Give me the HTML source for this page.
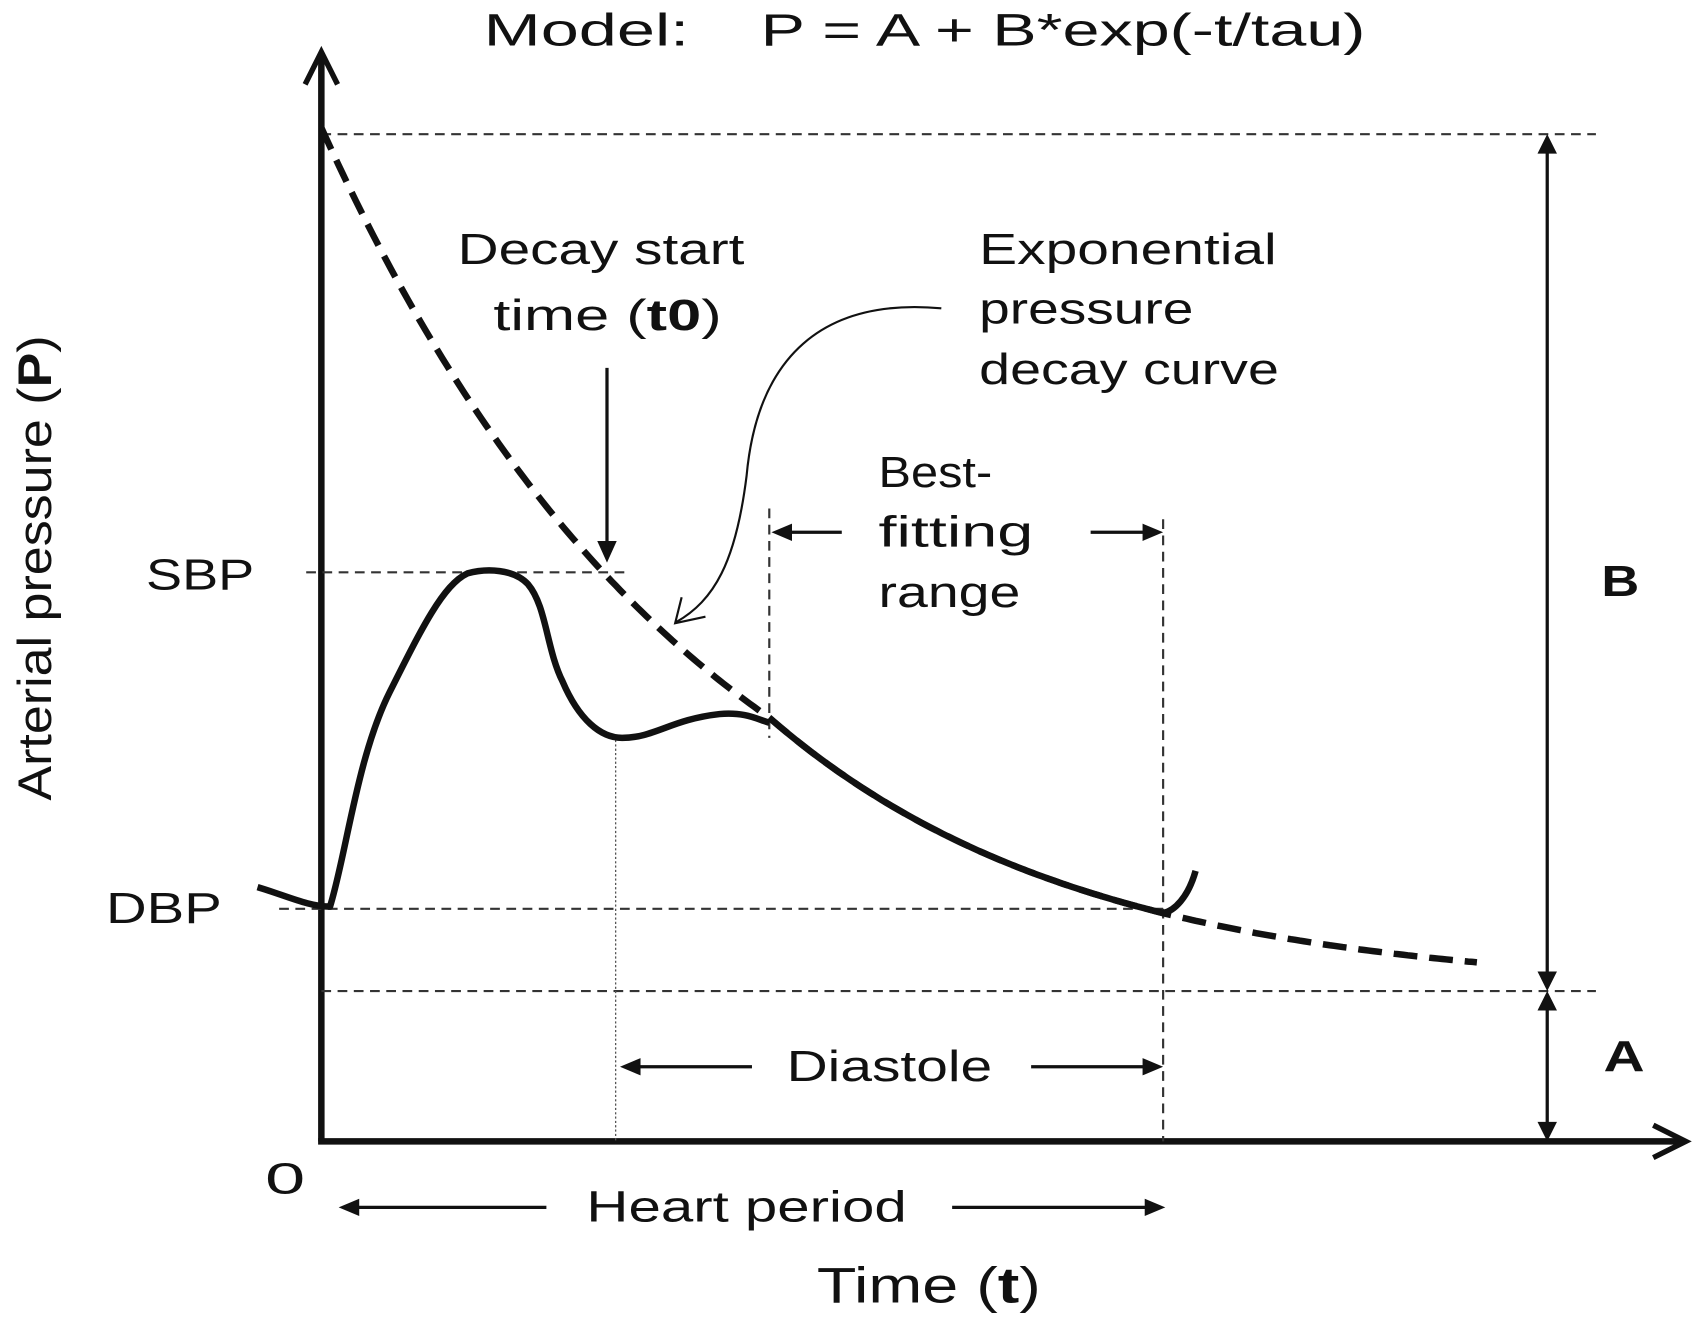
<!DOCTYPE html>
<html><head><meta charset="utf-8"><style>
html,body{margin:0;padding:0;background:#fff;}
svg{display:block;}
text{font-family:"Liberation Sans",sans-serif;fill:#111;}
</style></head><body>
<svg id="s" width="1696" height="1321" viewBox="0 0 1567.5 1221" preserveAspectRatio="none" xmlns="http://www.w3.org/2000/svg">
<g stroke="#111" fill="none">
<line x1="297" y1="1055" x2="297" y2="52" stroke-width="6"/>
<polyline points="282,78 297,48 312,78" stroke-width="5"/>
<line x1="294" y1="1055" x2="1556" y2="1055" stroke-width="6"/>
<polyline points="1528,1040 1558,1055 1528,1070" stroke-width="5"/>
<g stroke-dasharray="9,6" stroke-width="2" stroke="#333">
<line x1="297" y1="124" x2="1475" y2="124"/>
<line x1="297" y1="916" x2="1475" y2="916"/>
<line x1="283" y1="529" x2="578" y2="529"/>
<line x1="258" y1="840" x2="1075" y2="840"/>
<line x1="711" y1="470" x2="711" y2="682"/>
<line x1="1075" y1="480" x2="1075" y2="1055"/>
</g>
<line x1="569" y1="680" x2="569" y2="1055" stroke-width="1.2" stroke="#555" stroke-dasharray="2,2"/>
<line x1="1430" y1="135" x2="1430" y2="905" stroke-width="3"/>
<line x1="1430" y1="927" x2="1430" y2="1045" stroke-width="3"/>
</g>
<g fill="#111">
<polygon points="1421,142 1430,124 1439,142"/>
<polygon points="1421,898 1430,916 1439,898"/>
<polygon points="1421,934 1430,916 1439,934"/>
<polygon points="1421,1037 1430,1055 1439,1037"/>
<polygon points="552,500 561,520 570,500"/>
<polygon points="713,492 732,484 732,500"/>
<polygon points="1075,492 1056,484 1056,500"/>
<polygon points="573,986 592,978 592,994"/>
<polygon points="1075,986 1056,978 1056,994"/>
<polygon points="313,1116 332,1108 332,1124"/>
<polygon points="1077,1116 1058,1108 1058,1124"/>
</g>
<g stroke="#111" fill="none" stroke-width="3">
<line x1="561" y1="340" x2="561" y2="505"/>
<line x1="730" y1="492" x2="778" y2="492"/>
<line x1="1008" y1="492" x2="1060" y2="492"/>
<line x1="590" y1="986" x2="695" y2="986"/>
<line x1="953" y1="986" x2="1060" y2="986"/>
<line x1="330" y1="1116" x2="505" y2="1116"/>
<line x1="880" y1="1116" x2="1060" y2="1116"/>
</g>
<path d="M870,285 C760,275 700,330 690,440 C680,520 660,555 625,575" stroke="#111" stroke-width="2" fill="none"/>
<polyline points="630,552 624,576 652,570" stroke="#111" stroke-width="2" fill="none"/>
<path id="exp" d="" stroke="#111" stroke-width="6" fill="none" stroke-dasharray="22,11"/>
<path id="pr" d="M238,820 C265,828 285,838 305,838 C320,790 330,700 360,640 C390,580 410,540 432,530 C450,525 475,526 488,540 C505,560 505,600 520,630 C535,665 555,682 575,682 C605,682 620,665 665,660 C690,658 700,665 711,668" stroke="#111" stroke-width="6" fill="none" stroke-linejoin="round"/>
<path id="tail" d="" stroke="#111" stroke-width="6" fill="none"/>
<g font-size="42">
<text x="447" y="42" textLength="190" lengthAdjust="spacingAndGlyphs">Model:</text>
<text x="703" y="42" textLength="559" lengthAdjust="spacingAndGlyphs">P = A + B*exp(-t/tau)</text>
</g>
<g font-size="40">
<text x="423" y="244" textLength="265" lengthAdjust="spacingAndGlyphs">Decay start</text>
<text x="456" y="305" textLength="211" lengthAdjust="spacingAndGlyphs">time (<tspan font-weight="bold">t0</tspan>)</text>
<text x="905" y="244" textLength="275" lengthAdjust="spacingAndGlyphs">Exponential</text>
<text x="905" y="299" textLength="198" lengthAdjust="spacingAndGlyphs">pressure</text>
<text x="905" y="355" textLength="277" lengthAdjust="spacingAndGlyphs">decay curve</text>
<text x="812" y="450" textLength="105" lengthAdjust="spacingAndGlyphs">Best-</text>
<text x="812" y="505" textLength="143" lengthAdjust="spacingAndGlyphs">fitting</text>
<text x="812" y="561" textLength="131" lengthAdjust="spacingAndGlyphs">range</text>
<text x="727" y="999" textLength="190" lengthAdjust="spacingAndGlyphs">Diastole</text>
<text x="542" y="1129" textLength="296" lengthAdjust="spacingAndGlyphs">Heart period</text>
<text x="245" y="1103" textLength="37" lengthAdjust="spacingAndGlyphs">0</text>
<text x="135" y="545" textLength="100" lengthAdjust="spacingAndGlyphs">SBP</text>
<text x="98" y="853" textLength="107" lengthAdjust="spacingAndGlyphs">DBP</text>
<text x="1480" y="551" font-weight="bold" textLength="35" lengthAdjust="spacingAndGlyphs">B</text>
<text x="1482" y="990" font-weight="bold" textLength="38" lengthAdjust="spacingAndGlyphs">A</text>
</g>
<text x="755" y="1204" font-size="46" textLength="207" lengthAdjust="spacingAndGlyphs">Time (<tspan font-weight="bold">t</tspan>)</text>
<text transform="translate(47,740) rotate(-90)" font-size="44" textLength="430" lengthAdjust="spacingAndGlyphs">Arterial pressure (<tspan font-weight="bold">P</tspan>)</text>
</svg>
<script>
function f(x){
  if(x<=711) return 916-798*Math.exp(-(x-297)/360);
  var y711=916-798*Math.exp(-(711-297)/360);
  return 916-(916-y711)*Math.exp(-(x-711)/290);
}
var d="",t="";
for(var x=297;x<=1365;x+=4){d+=(x==297?"M":"L")+x+","+f(x).toFixed(1)+" ";}
document.getElementById("exp").setAttribute("d",d);
for(var x=711;x<=1075;x+=4){t+=(x==711?"M":"L")+x+","+f(x).toFixed(1)+" ";}
t+="C1085,842 1098,830 1105,805";
document.getElementById("tail").setAttribute("d",t);
</script>
</body></html>
